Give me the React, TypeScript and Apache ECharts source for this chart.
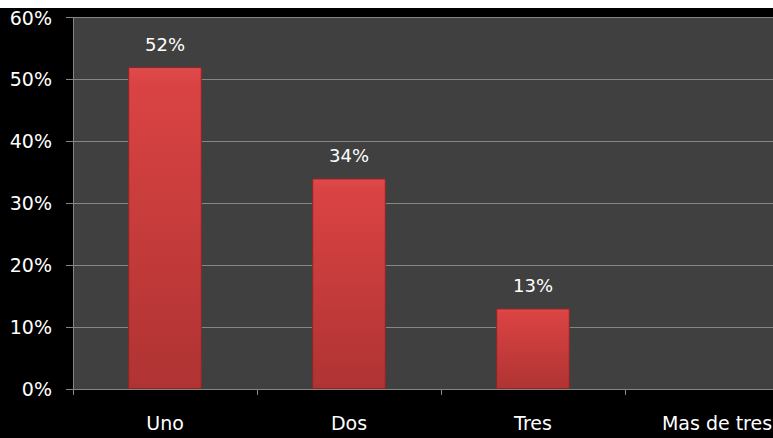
import React, { useEffect, useRef } from "react";
import * as echarts from "echarts";

const categories = ["Uno", "Dos", "Tres", "Mas de tres"];
const values = [52, 34, 13, 0];
const yTicks = [0, 10, 20, 30, 40, 50, 60];

export default function App() {
  const ref = useRef<HTMLDivElement>(null);
  useEffect(() => {
    if (!ref.current) return;
    const chart = echarts.init(ref.current, null, { renderer: "svg" });
    const font = "DejaVu Sans";
    chart.setOption({
      animation: false,
      backgroundColor: "#000000",
      grid: {
        left: 73,
        right: 11,
        top: 8,
        bottom: 49,
        show: true,
        backgroundColor: "#404040",
        borderWidth: 0,
      },
      xAxis: {
        type: "category",
        data: categories,
        boundaryGap: true,
        axisLine: { show: true, lineStyle: { color: "#858585", width: 1 } },
        axisTick: { show: true, length: 6, alignWithLabel: false, lineStyle: { color: "#858585" } },
        axisLabel: { color: "#ffffff", fontFamily: font, fontSize: 19, margin: 24 },
      },
      yAxis: {
        type: "value",
        min: yTicks[0],
        max: yTicks[yTicks.length - 1],
        interval: 10,
        axisLine: { show: true, lineStyle: { color: "#858585", width: 1 } },
        axisTick: { show: true, length: 7, lineStyle: { color: "#858585" } },
        splitLine: { show: true, lineStyle: { color: "#858585", width: 1 } },
        axisLabel: {
          color: "#ffffff",
          fontFamily: font,
          fontSize: 19,
          margin: 21,
          formatter: "{value}%",
        },
      },
      series: [
        {
          type: "bar",
          data: values.map((v) => ({
            value: v,
            itemStyle: v > 0 ? undefined : { borderWidth: 0, color: "rgba(0,0,0,0)" },
          })),
          barWidth: "40%",
          itemStyle: {
            color: new echarts.graphic.LinearGradient(0, 0, 0, 1, [
              { offset: 0, color: "#E04A4A" },
              { offset: 0.05, color: "#DA4343" },
              { offset: 1, color: "#B03333" },
            ]),
            borderColor: "#8E2626",
            borderWidth: 1,
          },
          label: {
            show: true,
            position: "top",
            distance: 14,
            color: "#ffffff",
            fontFamily: font,
            fontSize: 18,
            formatter: (p: any) => (p.value > 0 ? p.value + "%" : ""),
          },
        },
      ],
    });
    return () => chart.dispose();
  }, []);
  return (
    <div
      style={{ position: "absolute", left: 0, top: 8, width: 773, height: 430, overflow: "hidden", background: "#000" }}
    >
      <div ref={ref} style={{ width: 820, height: 430 }} />
    </div>
  );
}
